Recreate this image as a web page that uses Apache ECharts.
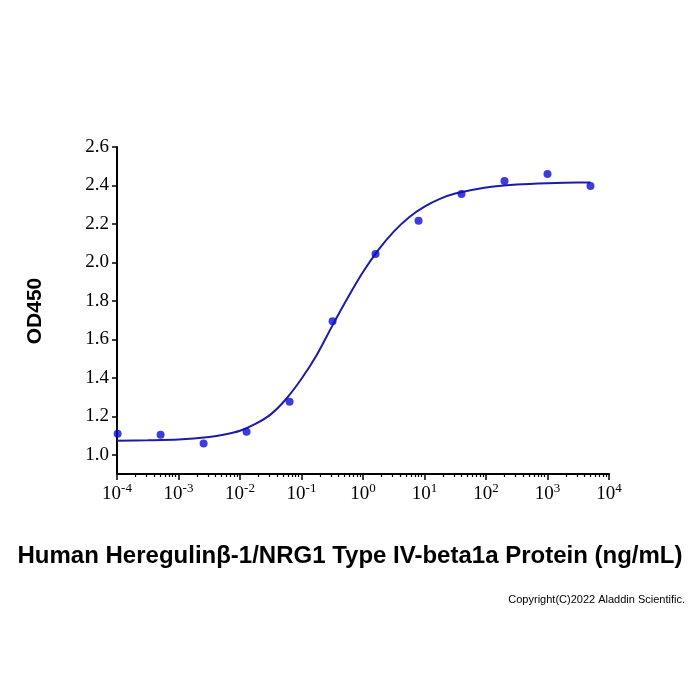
<!DOCTYPE html>
<html>
<head>
<meta charset="utf-8">
<script src="https://cdn.jsdelivr.net/npm/echarts@6/dist/echarts.min.js"></script>
<style>
  html, body { margin: 0; padding: 0; background: #fff; }
  #chart { width: 700px; height: 700px; }
</style>
</head>
<body>
<div id="chart"></div>
<script>
// measured points (ng/mL, OD450)
const concentrations = [0.0001024, 0.000512, 0.00256, 0.0128, 0.064, 0.32, 1.6, 8, 40, 200, 1000, 5000]
const od450 = [1.109, 1.104, 1.059, 1.119, 1.275, 1.694, 2.044, 2.217, 2.356, 2.423, 2.460, 2.397]

// fitted curve
const curveX = [0.0001, 0.000316, 0.001, 0.00316, 0.00562, 0.01, 0.0178, 0.0316, 0.0562, 0.1, 0.178, 0.316, 0.562, 1, 1.78, 3.16, 5.62, 10, 17.8, 31.6, 100, 316, 1000, 3162, 5000]
const curveY = [1.073, 1.075, 1.079, 1.092, 1.105, 1.125, 1.16, 1.21, 1.29, 1.395, 1.52, 1.67, 1.815, 1.95, 2.065, 2.16, 2.235, 2.29, 2.33, 2.358, 2.39, 2.405, 2.412, 2.415, 2.415]

const yTickValues = [1.0, 1.2, 1.4, 1.6, 1.8, 2.0, 2.2, 2.4, 2.6]

// minor ticks of the log axis, in decades
const minorTickExps = []
for (let n = -4; n < 4; n++) {
  for (let k = 2; k <= 9; k++) {
    minorTickExps.push(n + Math.log10(k))
  }
}

const chart = echarts.init(document.getElementById('chart'))

const option = {
  animation: false,
  backgroundColor: '#fff',
  grid: {
    left: 117,
    right: 91,
    top: 147,
    bottom: 226,
    outerBoundsMode: 'none'
  },
  xAxis: [
    {
      type: 'log',
      logBase: 10,
      min: 1e-4,
      max: 1e4,
      splitNumber: 8,
      axisLine: { onZero: false, lineStyle: { color: '#000', width: 2 } },
      axisTick: { length: 6, lineStyle: { color: '#000', width: 1.5 } },
      splitLine: { show: false },
      axisLabel: {
        margin: 8,
        color: '#000',
        formatter: function (v) {
          const e = Math.round(Math.log10(v))
          return '{b|10}{s|' + e + '}'
        },
        rich: {
          b: { fontFamily: 'Liberation Serif', fontSize: 19, color: '#000', verticalAlign: 'bottom', lineHeight: 22 },
          s: { fontFamily: 'Liberation Serif', fontSize: 13, color: '#000', verticalAlign: 'top', lineHeight: 22, padding: [0, 0, 8, 0] }
        }
      }
    },
    {
      type: 'value',
      min: -4,
      max: 4,
      position: 'bottom',
      axisLine: { show: false, onZero: false },
      axisLabel: { show: false },
      splitLine: { show: false },
      axisTick: {
        show: true,
        length: 3,
        customValues: minorTickExps,
        lineStyle: { color: '#000', width: 1.2 }
      }
    }
  ],
  yAxis: {
    type: 'value',
    min: 0.9,
    max: 2.6,
    axisLine: { show: true, onZero: false, lineStyle: { color: '#000', width: 2 } },
    axisTick: { show: true, length: 5, customValues: yTickValues, lineStyle: { color: '#000', width: 1.5 } },
    splitLine: { show: false },
    axisLabel: {
      customValues: yTickValues,
      margin: 8,
      color: '#000',
      fontFamily: 'Liberation Serif',
      fontSize: 19,
      formatter: v => v.toFixed(1)
    }
  },
  graphic: [
    {
      type: 'text',
      left: 'center',
      top: 544,
      style: {
        text: 'Human Heregulinβ-1/NRG1 Type IV-beta1a Protein (ng/mL)',
        font: 'bold 24px "Liberation Sans"',
        fill: '#000'
      }
    },
    {
      type: 'text',
      x: 35,
      y: 311,
      rotation: Math.PI / 2,
      style: {
        text: 'OD450',
        font: 'bold 21px "Liberation Sans"',
        fill: '#000',
        align: 'center',
        verticalAlign: 'middle'
      }
    },
    {
      type: 'text',
      right: 15,
      top: 594,
      style: {
        text: 'Copyright(C)2022 Aladdin Scientific.',
        font: '11px "Liberation Sans"',
        fill: '#000'
      }
    }
  ],
  series: [
    {
      type: 'line',
      xAxisIndex: 0,
      data: curveX.map((x, i) => [x, curveY[i]]),
      smooth: 0.3,
      showSymbol: false,
      lineStyle: { color: '#1c1ca6', width: 2 },
      z: 2
    },
    {
      type: 'scatter',
      xAxisIndex: 0,
      data: concentrations.map((x, i) => [x, od450[i]]),
      symbol: 'circle',
      symbolSize: 8,
      itemStyle: { color: '#0c0cd4' },
      z: 3
    }
  ]
}

chart.setOption(option)
</script>
</body>
</html>
